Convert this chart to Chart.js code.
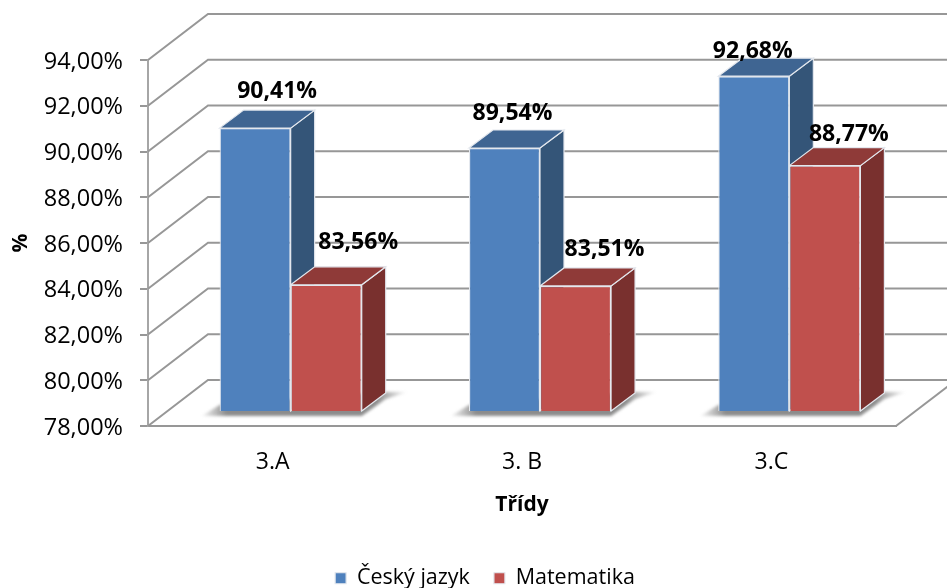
<!DOCTYPE html>
<html>
<head>
<meta charset="utf-8">
<style>
  html, body { margin: 0; padding: 0; background: #fff; }
  canvas { display: block; }
</style>
<script src="https://cdn.jsdelivr.net/npm/chart.js@4"></script>
</head>
<body>
<canvas id="chart" width="947" height="588"></canvas>
<script>
const categories = ["3.A", "3. B", "3.C"];
const cesky = [90.41, 89.54, 92.68];
const matematika = [83.56, 83.51, 88.77];
const tickLabels = ["78,00%", "80,00%", "82,00%", "84,00%", "86,00%", "88,00%", "90,00%", "92,00%", "94,00%"];
const axisMin = 78;
// hand placed data labels in the original, [dx, dy] from the bar's front top centre
const labelNudge = [
  [[22, -37], [32, -42]],
  [[8, -35], [29, -37]],
  [[-1, -25], [24, -31]]
];

const FONT = "'Open Sans'";
// depth of the chart box and of the bars
const wallX = 60, wallY = -46;
const barShiftX = 18, barShiftY = -14;
const depthX = 24, depthY = -18;
const gridColor = "#979797";

function poly(ctx, pts, fill, stroke) {
  ctx.beginPath();
  pts.forEach((p, i) => i ? ctx.lineTo(p[0], p[1]) : ctx.moveTo(p[0], p[1]));
  ctx.closePath();
  ctx.fillStyle = fill;
  ctx.fill();
  if (stroke) {
    ctx.strokeStyle = stroke;
    ctx.lineWidth = 1.2;
    ctx.stroke();
  }
}

const box3d = {
  id: "box3d",
  afterLayout(chart) {
    // legend is off centre and lower in the original
    chart.legend.left += 33;
    chart.legend.right += 33;
    chart.legend.top += 11;
    chart.legend.bottom += 11;
  },
  beforeDatasetsDraw(chart) {
    const ctx = chart.ctx;
    const y = chart.scales.y, a = chart.chartArea;
    ctx.save();
    ctx.strokeStyle = gridColor;
    ctx.lineWidth = 2;
    // back wall lines and the diagonals on the left side
    y.ticks.forEach(t => {
      const py = y.getPixelForValue(t.value);
      ctx.beginPath();
      ctx.moveTo(a.left, py);
      ctx.lineTo(a.left + wallX, py + wallY);
      ctx.lineTo(a.right + wallX, py + wallY);
      ctx.stroke();
    });
    // right edge of the floor
    ctx.beginPath();
    ctx.moveTo(a.right, a.bottom);
    ctx.lineTo(a.right + wallX, a.bottom + wallY);
    ctx.stroke();

    const m0 = chart.getDatasetMeta(0), m1 = chart.getDatasetMeta(1);
    // floor shadows
    categories.forEach((c, i) => {
      const l = m0.data[i].x - m0.data[i].width / 2 + barShiftX;
      const r = m1.data[i].x + m1.data[i].width / 2 + barShiftX;
      const b = m0.data[i].base + barShiftY;
      const g = ctx.createLinearGradient(l - 20, 0, r + 46, 0);
      g.addColorStop(0, "rgba(120,120,120,0)");
      g.addColorStop(0.13, "rgba(120,120,120,0.85)");
      g.addColorStop(0.85, "rgba(120,120,120,0.85)");
      g.addColorStop(1, "rgba(120,120,120,0)");
      ctx.save();
      ctx.filter = "blur(1.5px)";
      poly(ctx, [[l - 18, b + 5], [r, b + 5], [r + 24, b - 12], [r + 46, b - 19], [r + 20, b - 19], [l, b - 6]], g);
      ctx.restore();
    });
    // top and side faces, blue first so the red top covers it
    [[m0, "#3f6592", "#345578"], [m1, "#8f3a38", "#79302e"]].forEach(([meta, topCol, sideCol]) => {
      meta.data.forEach(el => {
        const l = el.x - el.width / 2 + barShiftX, r = el.x + el.width / 2 + barShiftX;
        const t = el.y + barShiftY, b = el.base + barShiftY;
        poly(ctx, [[r, t], [r + depthX, t + depthY], [r + depthX, b + depthY], [r, b]], sideCol, "#e4e8ee");
        poly(ctx, [[l, t], [l + depthX, t + depthY], [r + depthX, t + depthY], [r, t]], topCol, "#e4e8ee");
      });
    });
    ctx.restore();
    // fronts are drawn by Chart.js, moved into the bar plane
    ctx.save();
    ctx.translate(barShiftX, barShiftY);
  },
  afterDatasetsDraw(chart) {
    const ctx = chart.ctx;
    ctx.restore();
    ctx.save();
    ctx.font = "bold 23px " + FONT;
    ctx.fillStyle = "#000";
    ctx.textAlign = "center";
    ctx.textBaseline = "middle";
    chart.data.datasets.forEach((ds, d) => {
      chart.getDatasetMeta(d).data.forEach((el, i) => {
        const n = labelNudge[i][d];
        const txt = ds.data[i].toFixed(2).replace(".", ",") + "%";
        ctx.fillText(txt, el.x + barShiftX + n[0], el.y + barShiftY + n[1]);
      });
    });
    ctx.restore();
  }
};

new Chart(document.getElementById("chart"), {
  type: "bar",
  data: {
    labels: categories,
    datasets: [
      { label: "Český jazyk", data: cesky, base: axisMin, backgroundColor: "#4f81bd", borderColor: "#e4e8ee", borderWidth: 1.2, clip: false },
      { label: "Matematika", data: matematika, base: axisMin, backgroundColor: "#c0504d", borderColor: "#e4e8ee", borderWidth: 1.2, clip: false }
    ]
  },
  plugins: [box3d],
  options: {
    responsive: false,
    animation: false,
    layout: { padding: { top: 60, right: 51, left: 8, bottom: 0 } },
    datasets: { bar: { categoryPercentage: 0.57, barPercentage: 1 } },
    plugins: {
      title: { display: false },
      tooltip: { enabled: false },
      legend: {
        position: "bottom",
        labels: {
          boxWidth: 11, boxHeight: 11, padding: 24, color: "#000",
          font: { family: FONT, size: 21.5 }
        }
      }
    },
    scales: {
      x: {
        afterFit(scale) { scale.height = 162 - scale.chart.legend.height; },
        grid: { display: false },
        border: { display: true, color: gridColor, width: 2 },
        ticks: { padding: 15, color: "#000", font: { family: FONT, size: 23 } },
        title: { display: true, text: "Třídy", color: "#000", font: { family: FONT, size: 21, weight: "bold" }, padding: { top: 14, bottom: 15 } }
      },
      y: {
        min: axisMin,
        max: 94,
        afterFit(scale) { scale.width = 140; },
        grid: { drawOnChartArea: false, drawTicks: true, tickLength: 8, tickColor: gridColor, lineWidth: 2 },
        border: { display: true, color: "#a6a6a6", width: 2 },
        ticks: {
          stepSize: 2, padding: 17, labelOffset: 2, color: "#000",
          font: { family: FONT, size: 23.5 },
          callback: (val, i) => tickLabels[i]
        },
        title: { display: true, text: "%", color: "#000", font: { family: FONT, size: 21, weight: "bold" }, padding: 0 }
      }
    }
  }
});
</script>
</body>
</html>
